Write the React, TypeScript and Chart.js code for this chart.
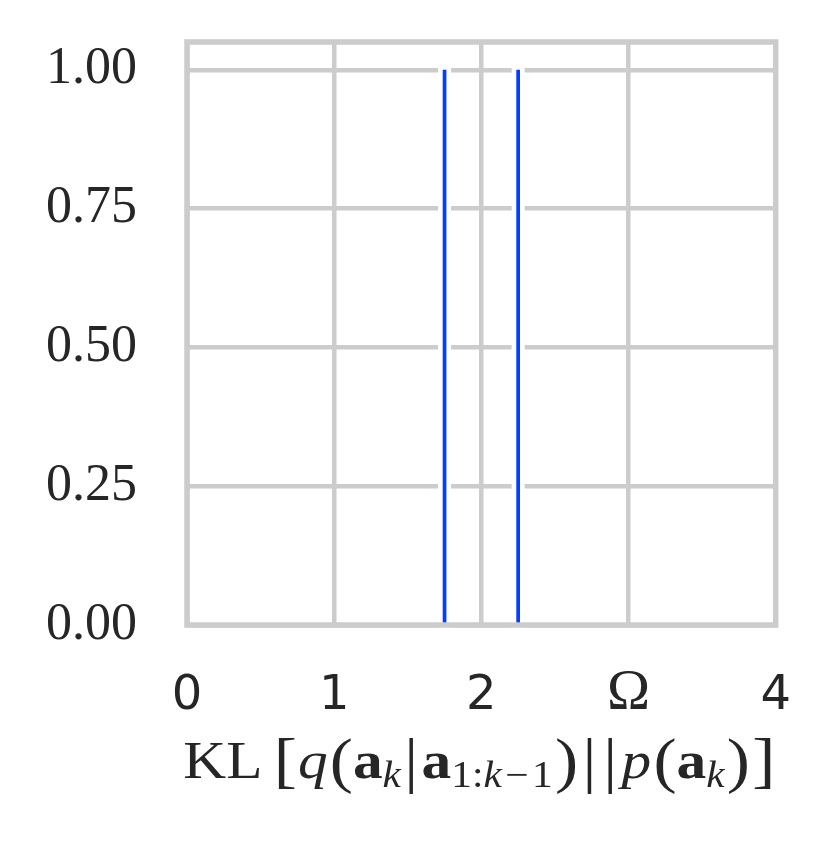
import React, { useEffect, useRef } from "react";
import { Chart, registerables } from "chart.js";

Chart.register(...registerables);

// ---- data ----
const lineXs = [1.75, 2.25];
const lineYStart = [0, 0];
const lineYEnd = [1, 1];
const xTickValues = [0, 1, 2, 3, 4];
const xTickLabels = ["0", "1", "2", "Ω", "4"];
const yTickValues = [0, 0.25, 0.5, 0.75, 1.0];
const yTickLabels = ["0.00", "0.25", "0.50", "0.75", "1.00"];

// ---- style ----
const BLUE = "#023eff";
const GRID = "#cccccc";
const TEXT = "#262626";
const SERIF = "'Liberation Serif', 'DejaVu Serif', serif";
const SANS = "'DejaVu Sans', sans-serif";

const M = 53;
const S = 37;
const B = 62;
type Part = { t: string; f: string; dy?: number; gap?: number };
const titleParts: Part[] = [
  { t: "KL", f: `${M}px ${SERIF}` },
  { t: "[", f: `${B}px ${SERIF}`, gap: 10, dy: 3 },
  { t: "q", f: `italic ${M}px ${SERIF}`, gap: 1 },
  { t: "(", f: `${B}px ${SERIF}`, dy: 3, gap: 2 },
  { t: "a", f: `bold ${M}px ${SERIF}` },
  { t: "k", f: `italic ${S}px ${SERIF}`, dy: 9 },
  { t: "|", f: `${B}px ${SERIF}`, dy: 3, gap: 3 },
  { t: "a", f: `bold ${M}px ${SERIF}`, gap: 3 },
  { t: "1:", f: `${S}px ${SERIF}`, dy: 9 },
  { t: "k", f: `italic ${S}px ${SERIF}`, dy: 9 },
  { t: "−", f: `${S}px ${SERIF}`, dy: 9, gap: 3 },
  { t: "1", f: `${S}px ${SERIF}`, dy: 9, gap: 3 },
  { t: ")", f: `${B}px ${SERIF}`, dy: 3, gap: 2 },
  { t: "|", f: `${B}px ${SERIF}`, dy: 3, gap: 4 },
  { t: "|", f: `${B}px ${SERIF}`, dy: 3, gap: 6 },
  { t: "p", f: `italic ${M}px ${SERIF}`, gap: 4 },
  { t: "(", f: `${B}px ${SERIF}`, dy: 3, gap: 2 },
  { t: "a", f: `bold ${M}px ${SERIF}` },
  { t: "k", f: `italic ${S}px ${SERIF}`, dy: 9 },
  { t: ")", f: `${B}px ${SERIF}`, dy: 3, gap: 2 },
  { t: "]", f: `${B}px ${SERIF}`, dy: 3, gap: 2 },
];
const TITLE_WIDTH = 592;

const framePlugin = {
  id: "frame",
  afterDatasetsDraw(chart: any) {
    const { ctx, chartArea } = chart;
    ctx.save();
    ctx.strokeStyle = GRID;
    ctx.lineWidth = 5.5;
    ctx.strokeRect(
      chartArea.left,
      chartArea.top,
      chartArea.right - chartArea.left,
      chartArea.bottom - chartArea.top
    );
    ctx.restore();
  },
};

const titlePlugin = {
  id: "mathTitle",
  afterDraw(chart: any) {
    const { ctx, chartArea } = chart;
    ctx.save();
    ctx.fillStyle = TEXT;
    ctx.textBaseline = "alphabetic";
    ctx.textAlign = "left";
    let total = 0;
    const widths = titleParts.map((p) => {
      ctx.font = p.f;
      const w = ctx.measureText(p.t).width;
      total += w + (p.gap || 0);
      return w;
    });
    const center = (chartArea.left + chartArea.right) / 2 - 2;
    const base = chartArea.bottom + 153;
    const k = TITLE_WIDTH / total;
    ctx.translate(center - TITLE_WIDTH / 2, 0);
    ctx.scale(k, 1);
    let x = 0;
    titleParts.forEach((p, i) => {
      x += p.gap || 0;
      ctx.font = p.f;
      ctx.fillText(p.t, x, base + (p.dy || 0));
      x += widths[i];
    });
    ctx.restore();
  },
};

export default function App() {
  const ref = useRef<HTMLCanvasElement | null>(null);
  useEffect(() => {
    if (!ref.current) return;
    const datasets: any[] = [];
    lineXs.forEach((x, i) => {
      datasets.push({
        data: [
          { x, y: lineYStart[i] },
          { x, y: lineYEnd[i] },
        ],
        borderColor: BLUE,
        borderWidth: 3.7,
        pointRadius: 0,
        order: 1,
        clip: false,
      });
      datasets.push({
        data: [
          { x, y: lineYStart[i] },
          { x, y: lineYEnd[i] },
        ],
        borderColor: "#ffffff",
        borderWidth: 13,
        borderCapStyle: "square",
        pointRadius: 0,
        order: 2,
        clip: false,
      });
    });
    const chart = new Chart(ref.current, {
      type: "line",
      data: { datasets },
      options: {
        animation: false,
        responsive: false,
        devicePixelRatio: 1,
        layout: { padding: { top: 42, right: 55.3, left: 0, bottom: 0 } },
        plugins: { legend: { display: false }, tooltip: { enabled: false } },
        scales: {
          x: {
            type: "linear",
            min: 0,
            max: 4,
            afterFit: (s: any) => {
              s.height = 216;
              s.paddingLeft = 0;
              s.paddingRight = 0;
            },
            afterBuildTicks: (s: any) => {
              s.ticks = xTickValues.map((v) => ({ value: v }));
            },
            grid: { color: GRID, lineWidth: 4.5, drawTicks: false },
            border: { display: false },
            ticks: {
              autoSkip: false,
              maxRotation: 0,
              padding: 43,
              color: TEXT,
              callback: (_v: any, i: number) => xTickLabels[i],
              font: (c: any) =>
                c.index === 3
                  ? { family: SERIF, size: 58, lineHeight: 0.9 }
                  : { family: SANS, size: 48 },
            },
          },
          y: {
            type: "linear",
            min: 0,
            max: 1.05,
            afterFit: (s: any) => {
              s.width = 187;
              s.paddingTop = 0;
              s.paddingBottom = 0;
            },
            afterBuildTicks: (s: any) => {
              s.ticks = yTickValues.map((v) => ({ value: v }));
            },
            grid: { color: GRID, lineWidth: 4.5, drawTicks: false },
            border: { display: false },
            ticks: {
              padding: 50,
              color: TEXT,
              callback: (_v: any, i: number) => yTickLabels[i],
              font: { family: SERIF, size: 52 },
            },
          },
        },
      },
      plugins: [framePlugin, titlePlugin],
    });
    return () => chart.destroy();
  }, []);
  return (
    <div style={{ position: "absolute", left: 0, top: 0, width: 831, height: 841, background: "#fff" }}>
      <canvas ref={ref} width={831} height={841} />
    </div>
  );
}
